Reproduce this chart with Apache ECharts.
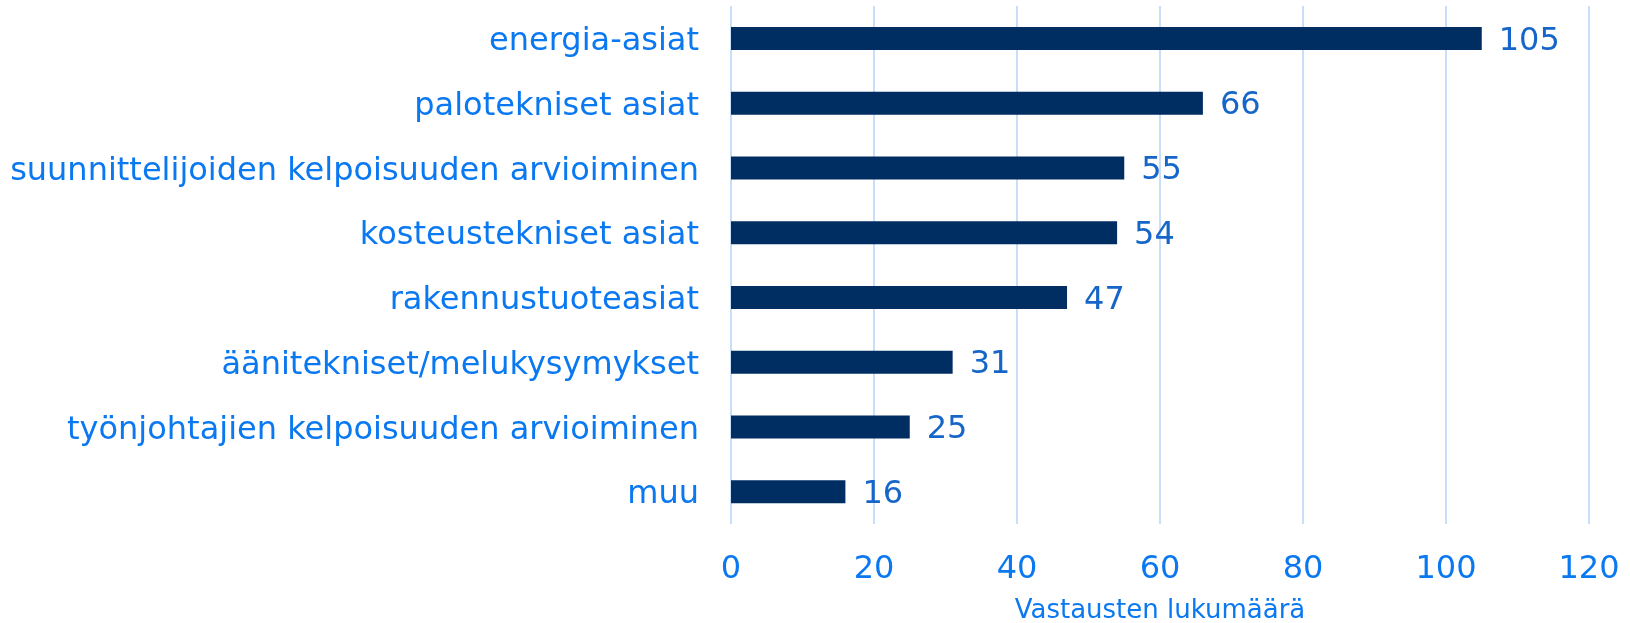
<!DOCTYPE html>
<html>
<head>
<meta charset="utf-8">
<script src="https://cdn.jsdelivr.net/npm/echarts@6/dist/echarts.min.js"></script>
<style>
  html, body { margin: 0; padding: 0; background: #fff; }
  #container { width: 1630px; height: 623px; }
</style>
</head>
<body>
<div id="container"></div>
<script>
var categories = [
    'energia-asiat',
    'palotekniset asiat',
    'suunnittelijoiden kelpoisuuden arvioiminen',
    'kosteustekniset asiat',
    'rakennustuoteasiat',
    'äänitekniset/melukysymykset',
    'työnjohtajien kelpoisuuden arvioiminen',
    'muu'
];
var counts = [105, 66, 55, 54, 47, 31, 25, 16];
var axisName = 'Vastausten lukumäärä';

var dom = document.getElementById('container');
var myChart = echarts.init(dom, null, { renderer: 'canvas' });

var font = 'Verdana, "DejaVu Sans", sans-serif';

var option = {
    backgroundColor: '#ffffff',
    animation: false,
    grid: {
        left: 731,
        right: 41,
        top: 6,
        bottom: 99,
        containLabel: false,
        outerBoundsMode: 'none'
    },
    xAxis: {
        type: 'value',
        min: 0,
        max: 120,
        interval: 20,
        name: axisName,
        nameLocation: 'middle',
        nameGap: 74,
        nameTextStyle: { color: '#0a78f0', fontSize: 26, fontFamily: font },
        axisLine: { show: false },
        axisTick: { show: false },
        axisLabel: { color: '#0a78f0', fontSize: 32, fontFamily: font, margin: 30 },
        splitLine: { show: true, lineStyle: { color: '#c9def8', width: 2 } }
    },
    yAxis: {
        type: 'category',
        inverse: true,
        data: categories,
        axisLine: { show: false },
        axisTick: { show: false },
        axisLabel: {
            margin: 32,
            formatter: '{c|{value}}',
            rich: {
                c: {
                    color: '#0a78f0',
                    fontSize: 32,
                    fontFamily: font,
                    padding: [7, 0, 0, 0]
                }
            }
        }
    },
    series: [{
        type: 'bar',
        data: counts,
        barWidth: 23,
        itemStyle: { color: '#002d62' },
        label: {
            show: true,
            position: 'right',
            distance: 17,
            color: '#1566c8',
            fontSize: 32,
            fontFamily: font,
            offset: [0, 3]
        }
    }]
};

myChart.setOption(option);
window.addEventListener('resize', myChart.resize);
</script>
</body>
</html>
